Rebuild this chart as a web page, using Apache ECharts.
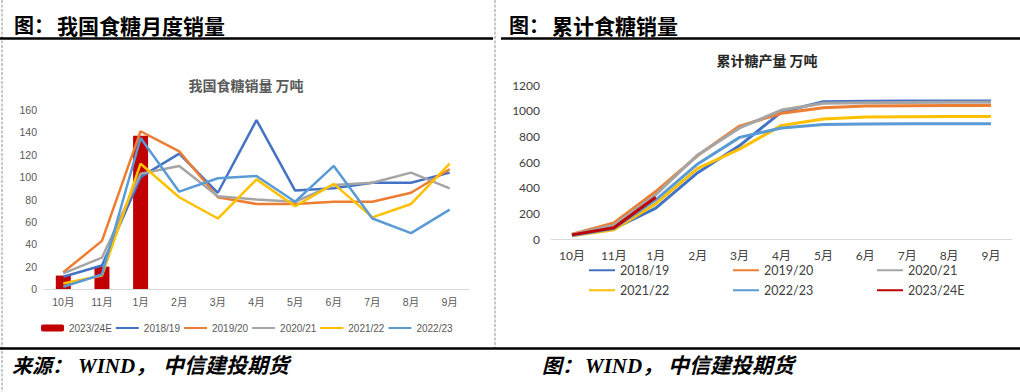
<!DOCTYPE html>
<html>
<head>
<meta charset="utf-8">
<script src="https://cdn.jsdelivr.net/npm/echarts@6/dist/echarts.min.js"></script>
<style>
html,body{margin:0;padding:0;background:#fff;}
#c{width:1020px;height:392px;}
</style>
</head>
<body>
<div id="c"></div>
<script>
// ---- data ----
const categories = ['10月','11月','1月','2月','3月','4月','5月','6月','7月','8月','9月'];
const seasons = ['2018/19','2019/20','2020/21','2021/22','2022/23','2023/24E'];

// left: monthly sales (万吨)
const sales2324 = [12, 20, 137];
const sales1819 = [11, 21, 100, 121, 86, 151, 88, 90, 95, 95, 104];
const sales1920 = [15, 43, 141, 123, 82, 76, 76, 78, 78, 86, 107];
const sales2021 = [14, 28, 103, 110, 83, 80, 78, 93, 95, 104, 90];
const sales2122 = [5, 12, 112, 82, 63, 98, 74, 94, 64, 76, 112];
const sales2223 = [2, 13, 135, 87, 99, 101, 78, 110, 63, 50, 71];

// right: cumulative (万吨)
const cum1819 = [35, 80, 240, 517, 728, 990, 1070, 1074, 1075, 1075, 1075];
const cum1920 = [38, 125, 370, 650, 880, 980, 1022, 1037, 1039, 1040, 1040];
const cum2021 = [36, 108, 345, 655, 865, 1005, 1058, 1062, 1064, 1065, 1065];
const cum2122 = [25, 72, 275, 550, 700, 885, 935, 950, 953, 955, 955];
const cum2223 = [28, 82, 305, 585, 792, 865, 893, 897, 898, 898, 898];
const cum2324 = [32, 88, 325];

const colors = {'2018/19':'#4472C4','2019/20':'#ED7D31','2020/21':'#A5A5A5','2021/22':'#FFC000','2022/23':'#5B9BD5','2023/24E':'#C00000'};

const SUF = ' 累计';
const leftFont = '"Liberation Sans", "Noto Sans CJK SC", sans-serif';
const rightFont = 'Lato, "Noto Sans CJK SC", sans-serif';
const cjkBold = '"Noto Sans CJK SC", sans-serif';
const footFont = '"Liberation Serif", "Noto Sans CJK SC", serif';

function leftLine(name, data){
  return {name, type:'line', xAxisIndex:0, yAxisIndex:0, data, symbol:'none',
    lineStyle:{width:2.5, color:colors[name]}, itemStyle:{color:colors[name]}, z:3};
}
function rightLine(name, data){
  return {name:name+SUF, type:'line', xAxisIndex:1, yAxisIndex:1, data, symbol:'none',
    lineStyle:{width:3, color:colors[name]}, itemStyle:{color:colors[name]}, z:3};
}

const rightLegendPos = [
  ['2018/19',588,264],['2019/20',732,264],['2020/21',876,264],
  ['2021/22',588,284],['2022/23',732,284],['2023/24E',876,284]
];

function txt(x,y,text,font,size,weight,style,fill,align){
  return {type:'text', x, y, silent:true, style:{text, fontFamily:font, fontSize:size, fontWeight:weight||'normal', fontStyle:style||'normal', fill:fill||'#000', align:align||'left', verticalAlign:'middle'}};
}
function ln(x1,y1,x2,y2,stroke,w,dash){
  return {type:'line', silent:true, shape:{x1,y1,x2,y2}, style:{stroke, lineWidth:w, lineDash:dash||null}};
}

const chart = echarts.init(document.getElementById('c'), null, {renderer:'svg'});
const option = {
  animation:false,
  backgroundColor:'#fff',
  grid:[
    {left:44, top:110, width:425, height:179},
    {left:551, top:85, width:461, height:154}
  ],
  xAxis:[
    {type:'category', gridIndex:0, data:categories, boundaryGap:true,
      axisLine:{lineStyle:{color:'#d9d9d9', width:1}}, axisTick:{show:false},
      axisLabel:{color:'#595959', fontSize:10.5, fontFamily:leftFont, margin:8, interval:0}},
    {type:'category', gridIndex:1, data:categories, boundaryGap:true,
      axisLine:{lineStyle:{color:'#d9d9d9', width:1}}, axisTick:{show:false},
      axisLabel:{color:'#404040', fontSize:12, fontFamily:rightFont, margin:10, interval:0}}
  ],
  yAxis:[
    {type:'value', gridIndex:0, min:0, max:160, interval:20,
      axisLine:{show:false}, axisTick:{show:false}, splitLine:{show:false},
      axisLabel:{color:'#595959', fontSize:10.5, fontFamily:leftFont, margin:7}},
    {type:'value', gridIndex:1, min:0, max:1200, interval:200,
      axisLine:{show:false}, axisTick:{show:false}, splitLine:{show:false},
      axisLabel:{color:'#404040', fontSize:12, fontFamily:rightFont, margin:11, formatter:(v)=>String(v)}}
  ],
  legend:[
    {data:[{name:'2023/24E'}].concat(seasons.slice(0,5).map(n=>({name:n, itemStyle:{opacity:0}}))),
      left:41, top:323, padding:0,
      itemWidth:23, itemHeight:7, itemGap:3, selectedMode:false,
      textStyle:{color:'#595959', fontSize:10, fontFamily:leftFont}}
  ].concat(rightLegendPos.map(([n,x,y]) => ({
      data:[{name:n+SUF, itemStyle:{opacity:0}}], left:x, top:y, padding:0, itemWidth:26, itemHeight:14, selectedMode:false,
      formatter:(s)=>s.replace(SUF,''),
      textStyle:{color:'#404040', fontSize:12.5, fontFamily:rightFont}
  }))),
  series:[
    {name:'2023/24E', type:'bar', xAxisIndex:0, yAxisIndex:0, data:sales2324, barWidth:15,
      itemStyle:{color:colors['2023/24E']}, z:2},
    leftLine('2018/19', sales1819),
    leftLine('2019/20', sales1920),
    leftLine('2020/21', sales2021),
    leftLine('2021/22', sales2122),
    leftLine('2022/23', sales2223),
    rightLine('2018/19', cum1819),
    rightLine('2019/20', cum1920),
    rightLine('2020/21', cum2021),
    rightLine('2021/22', cum2122),
    rightLine('2022/23', cum2223),
    rightLine('2023/24E', cum2324)
  ],
  graphic:[
    ln(2,0,2,392,'#c8c8c8',2,[3,1.5]),
    ln(495,0,495,348,'#c8c8c8',2,[3,1.5]),
    ln(0,38.5,493,38.5,'#000',2.5),
    ln(501,38.5,1020,38.5,'#000',2.5),
    ln(0,348.5,1020,348.5,'#000',2.5),
    txt(14,24.5,'图：',cjkBold,20,'bold'),
    txt(57,24.5,'我国食糖月度销量',cjkBold,21,'bold'),
    txt(509,24.5,'图：',cjkBold,20,'bold'),
    txt(552,24.5,'累计食糖销量',cjkBold,21,'bold'),
    txt(246,85,'我国食糖销量 万吨',cjkBold,14,'bold','normal','#595959','center'),
    txt(767,60,'累计糖产量 万吨',cjkBold,14,'bold','normal','#262626','center'),
    txt(12,366,'来源：',footFont,20,'bold','italic'),
    txt(78,366,'WIND，',footFont,21,'bold','italic'),
    txt(163,366,'中信建投期货',footFont,21,'bold','italic'),
    txt(542,366,'图：',footFont,20,'bold','italic'),
    txt(585,366,'WIND，',footFont,21,'bold','italic'),
    txt(668,366,'中信建投期货',footFont,21,'bold','italic')
  ]
};
chart.setOption(option);
</script>
</body>
</html>
